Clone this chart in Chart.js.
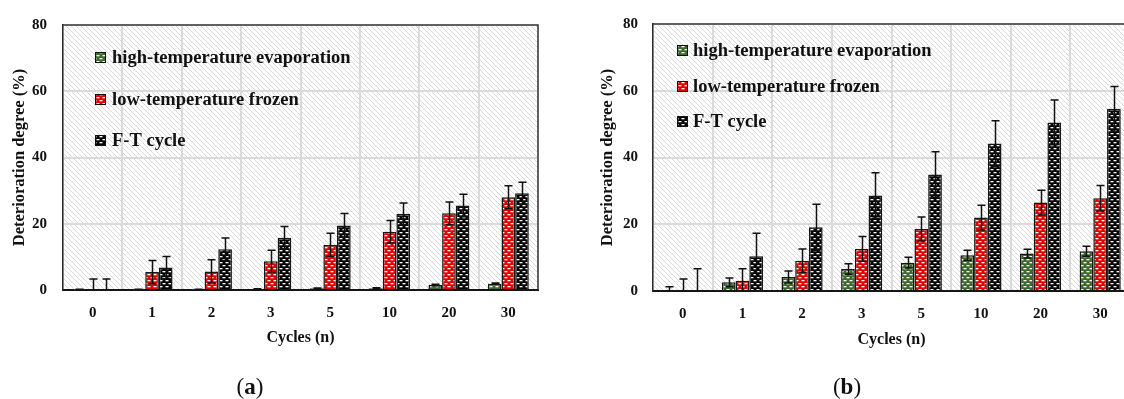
<!DOCTYPE html>
<html><head><meta charset="utf-8">
<script src="https://cdn.jsdelivr.net/npm/chart.js@4.4.0/dist/chart.umd.min.js"></script>
<style>
html,body{margin:0;padding:0;background:#fff;width:1124px;height:399px;overflow:hidden;position:relative;}
#wa{position:absolute;left:0;top:0;width:545px;height:399px;}
#wb{position:absolute;left:588px;top:0;width:544px;height:399px;}
.lab{position:absolute;top:375px;width:100px;text-align:center;font-family:'Liberation Serif',serif;font-size:23px;line-height:24px;color:#111;}
</style></head><body>
<div id="wa"><canvas id="ca" width="545" height="399"></canvas></div>
<div id="wb"><canvas id="cb" width="544" height="399"></canvas></div>
<div class="lab" style="left:200px">(<b>a</b>)</div>
<div class="lab" style="left:797px">(<b>b</b>)</div>
<script>
// ---- data ----
const cycles = ['0','1','2','3','5','10','20','30'];
const seriesNames = ['high-temperature evaporation','low-temperature frozen','F-T cycle'];
const yTicks = [0,20,40,60,80];
const xTitle = 'Cycles (n)';
const yTitle = 'Deterioration degree (%)';

const aHigh    = [0.1, 0.15, 0.15, 0.3, 0.5, 0.5, 1.5, 1.9];
const aHighErr = [0.1, 0.1, 0.1, 0.1, 0.1, 0.15, 0.2, 0.2];
const aLow     = [0, 5.4, 5.6, 8.7, 13.6, 17.6, 23.2, 28.0];
const aLowErr  = [3.3, 3.5, 3.5, 3.3, 3.5, 3.4, 3.4, 3.5];
const aFT      = [0, 6.8, 12.3, 15.8, 19.5, 23.0, 25.5, 29.2];
const aFTErr   = [3.3, 3.3, 3.4, 3.4, 3.6, 3.3, 3.4, 3.3];

const bHigh    = [0, 2.6, 4.2, 6.6, 8.5, 10.7, 11.2, 11.9];
const bHighErr = [1.3, 1.3, 1.8, 1.6, 1.6, 1.5, 1.3, 1.5];
const bLow     = [0, 3.1, 9.1, 12.6, 18.6, 22.0, 26.5, 27.8];
const bLowErr  = [3.6, 3.6, 3.5, 3.7, 3.6, 3.7, 3.7, 3.8];
const bFT      = [0, 10.4, 19.1, 28.6, 34.9, 44.2, 50.5, 54.6];
const bFTErr   = [6.7, 6.9, 6.9, 6.8, 6.8, 6.8, 6.7, 6.7];

// ---- patterns ----
function barPattern(color){
  const c=document.createElement('canvas'); c.width=6; c.height=6;
  const g=c.getContext('2d');
  g.fillStyle=color; g.fillRect(0,0,6,6);
  g.fillStyle='#ffffff';
  g.fillRect(0.5,1,3,1.3);
  g.fillRect(3.5,4,3,1.3);
  g.fillRect(-2.5,4,3,1.3);
  return g.createPattern(c,'repeat');
}
function hatchPattern(){
  const s=5;
  const c=document.createElement('canvas'); c.width=s; c.height=s;
  const g=c.getContext('2d');
  g.fillStyle='#ffffff'; g.fillRect(0,0,s,s);
  g.strokeStyle='#d9d9d9'; g.lineWidth=1;
  g.beginPath();
  g.moveTo(0,0); g.lineTo(s,s);
  g.moveTo(-1,s-1); g.lineTo(1,s+1);
  g.moveTo(s-1,-1); g.lineTo(s+1,1);
  g.stroke();
  return g.createPattern(c,'repeat');
}
const colors = ['#3d6a2c','#e30000','#050505'];

Chart.defaults.font.family = "'Liberation Serif', serif";
Chart.defaults.color = '#111';

const hatchPlugin = {
  id:'hatch',
  beforeDraw(chart){
    const {ctx, chartArea:a}=chart;
    ctx.save();
    ctx.fillStyle=hatchPattern();
    ctx.fillRect(a.left,a.top,a.right-a.left,a.bottom-a.top);
    ctx.restore();
  }
};
const errPlugin = {
  id:'errbars',
  afterDatasetsDraw(chart){
    const {ctx, chartArea:a}=chart;
    const ys=chart.scales.y;
    ctx.save();
    ctx.beginPath(); ctx.rect(a.left,a.top-10,a.right-a.left,a.bottom-a.top+10); ctx.clip();
    ctx.strokeStyle='#111'; ctx.lineWidth=1.5;
    chart.data.datasets.forEach((ds,i)=>{
      const meta=chart.getDatasetMeta(i);
      meta.data.forEach((bar,j)=>{
        const v=ds.data[j], e=ds.errors[j];
        const x=Math.round(bar.x)+0.5;
        const yt=ys.getPixelForValue(v+e), yb=ys.getPixelForValue(v-e);
        ctx.beginPath();
        ctx.moveTo(x,yt); ctx.lineTo(x,yb);
        ctx.moveTo(x-4,yt); ctx.lineTo(x+4,yt);
        ctx.moveTo(x-4,yb); ctx.lineTo(x+4,yb);
        ctx.stroke();
      });
    });
    ctx.restore();
  }
};
const framePlugin = {
  id:'frame',
  afterDraw(chart, args, opts){
    const {ctx, chartArea:a}=chart;
    ctx.save();
    ctx.strokeStyle='#3a3a3a'; ctx.lineWidth=1.5;
    ctx.beginPath();
    ctx.moveTo(a.left,a.top); ctx.lineTo(a.right,a.top); ctx.lineTo(a.right,a.bottom);
    ctx.stroke();
    // inner legend
    ctx.font="bold 18.5px 'Liberation Serif'";
    ctx.textBaseline='middle';
    chart.data.datasets.forEach((ds,i)=>{
      const y=Math.round(a.top+opts.y0+i*opts.dy);
      const x=Math.round(a.left+opts.x0);
      ctx.fillStyle=ds.backgroundColor;
      ctx.fillRect(x,y-5,10,10);
      ctx.strokeStyle='#111'; ctx.lineWidth=1;
      ctx.strokeRect(x+0.5,y-4.5,10,10);
      ctx.fillStyle='#111';
      ctx.fillText(ds.label, a.left+opts.tx, y+1);
    });
    ctx.restore();
  }
};

function makeChart(id, high, highErr, low, lowErr, ft, ftErr, cfg){
  const vals=[[high,highErr],[low,lowErr],[ft,ftErr]];
  return new Chart(document.getElementById(id), {
    type:'bar',
    data:{
      labels:cycles,
      datasets: seriesNames.map((n,i)=>({
        label:n, data:vals[i][0], errors:vals[i][1],
        backgroundColor:barPattern(colors[i]),
        borderColor:'#161616', borderWidth:1.5,
        categoryPercentage:0.69, barPercentage:1.0
      }))
    },
    options:{
      responsive:false, animation:false,
      layout:{padding:{left:0,top:cfg.top,right:cfg.right,bottom:0}},
      plugins:{legend:{display:false}, tooltip:{enabled:false},
        frame:{x0:cfg.lx, tx:cfg.tx, y0:cfg.ly, dy:cfg.ldy}},
      scales:{
        x:{
          grid:{display:true, offset:true, color:'#dadada', lineWidth:2, drawTicks:false},
          border:{display:true, color:'#151515', width:2},
          ticks:{font:{size:15, weight:'bold'}, padding:14, color:'#111'},
          title:{display:true, text:xTitle, font:{size:16, weight:'bold'}, padding:{top:0,bottom:cfg.xtp}, color:'#111'},
          afterFit(s){ s.height=cfg.xh; }
        },
        y:{
          min:0, max:80,
          afterBuildTicks(s){ s.ticks = yTicks.map(v=>({value:v})); },
          grid:{color:'#dadada', lineWidth:2, drawTicks:false},
          border:{display:true, color:'#2a2a2a', width:1.5},
          ticks:{font:{size:15, weight:'bold'}, padding:cfg.ytp, color:'#111'},
          title:{display:true, text:yTitle, font:{size:16.5, weight:'bold'}, padding:{top:10,bottom:0}, color:'#111'},
          afterFit(s){ s.width=cfg.yw; }
        }
      }
    },
    plugins:[hatchPlugin, errPlugin, framePlugin]
  });
}

makeChart('ca', aHigh, aHighErr, aLow, aLowErr, aFT, aFTErr,
  {top:22, right:7, yw:63, xh:109, xtp:52, ytp:16, lx:32, tx:49, ly:32, ldy:41.5});
makeChart('cb', bHigh, bHighErr, bLow, bLowErr, bFT, bFTErr,
  {top:21, right:2, yw:65, xh:108, xtp:50, ytp:15, lx:24, tx:40, ly:26, ldy:35.5});
</script>
</body></html>
